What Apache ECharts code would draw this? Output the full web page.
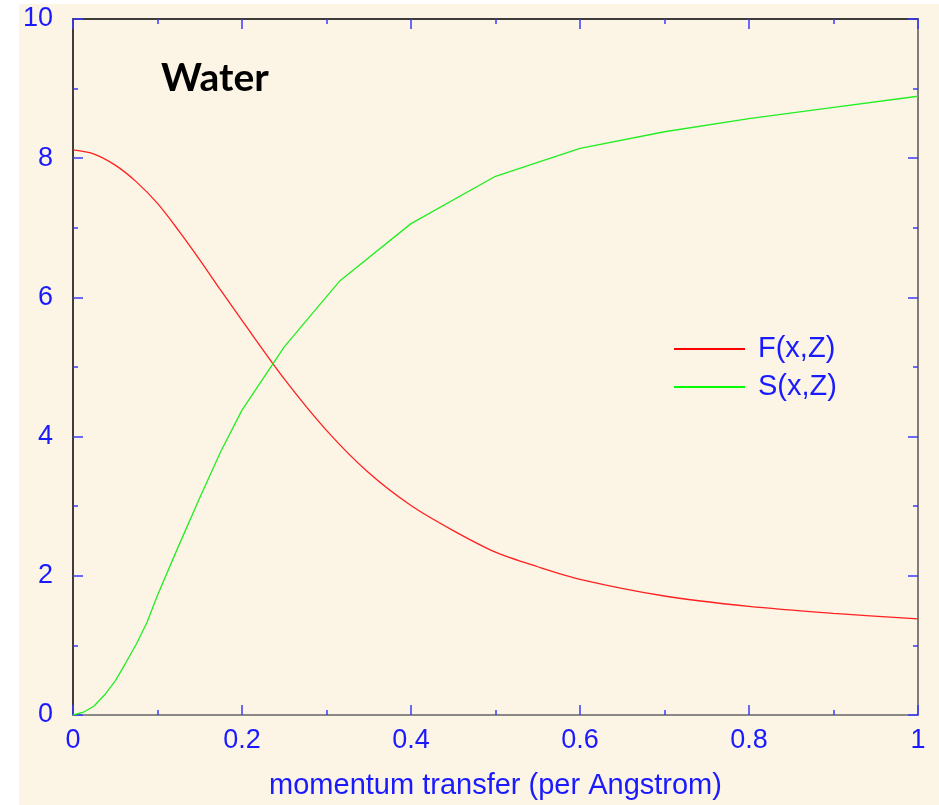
<!DOCTYPE html>
<html>
<head>
<meta charset="utf-8">
<script src="https://cdn.jsdelivr.net/npm/echarts@6/dist/echarts.min.js"></script>
<style>
  html, body { margin: 0; padding: 0; background: #ffffff; width: 939px; height: 805px; overflow: hidden; }
  #chart { position: absolute; left: 19px; top: 4px; width: 920px; height: 801px; }
</style>
</head>
<body>
<div id="chart"></div>
<script>
// Form factor F(x,Z)
const fX = [0, 0.025, 0.05, 0.075, 0.1, 0.125, 0.15, 0.175, 0.2, 0.25, 0.3, 0.35, 0.4, 0.45, 0.5, 0.55, 0.6, 0.7, 0.8, 0.9, 1.0];
const fY = [8.12, 8.06, 7.90, 7.66, 7.35, 6.96, 6.54, 6.10, 5.67, 4.83, 4.09, 3.48, 3.01, 2.65, 2.34, 2.13, 1.95, 1.71, 1.56, 1.46, 1.38];
// Incoherent scattering function S(x,Z)
const sX = [0, 0.0125, 0.025, 0.0375, 0.05, 0.0625, 0.075, 0.0875, 0.1, 0.125, 0.15, 0.175, 0.2, 0.25, 0.316, 0.4, 0.5, 0.6, 0.7, 0.8, 0.9, 1.0];
const sY = [0, 0.04, 0.13, 0.29, 0.49, 0.75, 1.02, 1.33, 1.72, 2.43, 3.12, 3.79, 4.38, 5.29, 6.24, 7.06, 7.74, 8.14, 8.38, 8.57, 8.73, 8.89];
const seriesNames = ['F(x,Z)', 'S(x,Z)'];
const titleText = 'Water';
const xAxisName = 'momentum transfer (per Angstrom)';

const pairs = (xs, ys) => xs.map((x, i) => [x, ys[i]]);

const blue = '#1a1aff';
const tickBlue = '#3a3aff';
const labelFont = 'Liberation Sans, Arial, sans-serif';

function axisBase(show, lineColor) {
  return {
    axisLine: { show: true, onZero: false, lineStyle: { color: lineColor, width: 1.5 } },
    axisTick: { show: true, inside: true, length: 10, lineStyle: { color: tickBlue, width: 1.5 } },
    minorTick: { show: true, splitNumber: 2, length: 5, lineStyle: { color: tickBlue, width: 1.5 } },
    splitLine: { show: false },
    minorSplitLine: { show: false },
    axisLabel: { show: show, color: blue, fontSize: 27, fontFamily: labelFont }
  };
}

const chart = echarts.init(document.getElementById('chart'));
chart.setOption({
  backgroundColor: '#fcf4e5',
  animation: false,
  grid: { left: 54, top: 15, right: 21, bottom: 85, containLabel: false },
  graphic: [{
    type: 'text', left: 142, top: 55,
    style: { text: titleText, fontSize: 39, fontWeight: 'bold', fontFamily: 'Lato, Open Sans, sans-serif', fill: '#000000' }
  }],
  legend: {
    orient: 'vertical', left: 650, top: 324,
    itemWidth: 71, itemHeight: 2, itemGap: 6,
    textStyle: { color: blue, fontSize: 29, fontFamily: labelFont, lineHeight: 32, padding: [0, 0, 0, 8] },
    data: seriesNames.map(n => ({ name: n, icon: 'rect' }))
  },
  xAxis: [
    Object.assign(axisBase(true, '#666666'), {
      type: 'value', position: 'bottom', min: 0, max: 1, interval: 0.2,
      name: xAxisName, nameLocation: 'middle', nameGap: 56,
      nameTextStyle: { color: blue, fontSize: 29, fontFamily: labelFont },
      axisLabel: { show: true, color: blue, fontSize: 27, fontFamily: labelFont, margin: 12 }
    }),
    Object.assign(axisBase(false, '#000000'), {
      type: 'value', position: 'top', min: 0, max: 1, interval: 0.2
    })
  ],
  yAxis: [
    Object.assign(axisBase(true, '#000000'), {
      type: 'value', position: 'left', min: 0, max: 10, interval: 2,
      axisLabel: { show: true, color: blue, fontSize: 27, fontFamily: labelFont, margin: 20 }
    }),
    Object.assign(axisBase(false, '#555555'), {
      type: 'value', position: 'right', min: 0, max: 10, interval: 2
    })
  ],
  series: [
    {
      name: seriesNames[0], type: 'line', xAxisIndex: 0, yAxisIndex: 0,
      data: pairs(fX, fY), symbol: 'none', smooth: 0.3,
      lineStyle: { color: '#ff2020', width: 1.3 }, itemStyle: { color: '#ff0000' }
    },
    {
      name: seriesNames[1], type: 'line', xAxisIndex: 0, yAxisIndex: 0,
      data: pairs(sX, sY), symbol: 'none',
      lineStyle: { color: '#22ee22', width: 1.3 }, itemStyle: { color: '#00ff00' }
    }
  ]
});
</script>
</body>
</html>
